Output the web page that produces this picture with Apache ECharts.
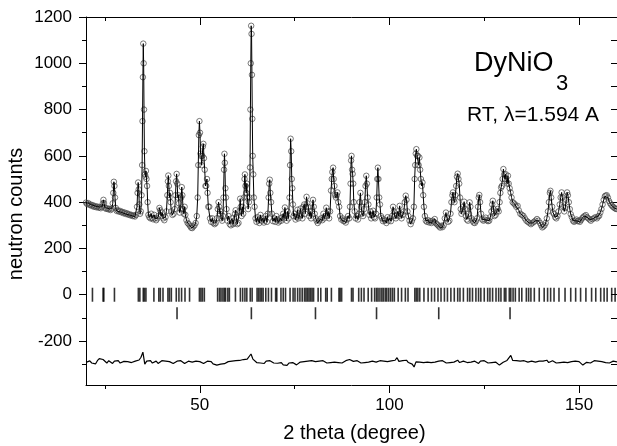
<!DOCTYPE html>
<html><head><meta charset="utf-8">
<script src="https://cdn.jsdelivr.net/npm/echarts@6/dist/echarts.min.js"></script>
<style>html,body{margin:0;padding:0;background:#fff}#c{width:617px;height:446px}</style>
</head><body><div id="c"></div>
<script>
// observed / calculated profile, [2theta, counts]
const obs20to65 = [
[20.0,398],[20.3,392],[20.6,396],[20.9,388],[21.2,390],[21.5,384],[21.8,387],[22.1,380],[22.4,383],[22.7,378],[23.0,381],[23.3,376],[23.6,379],[23.9,374],[24.2,380],[24.45,395],[24.6,410],[24.75,396],[25.0,376],[25.3,371],[25.6,374],[25.9,369],[26.2,371],[26.5,366],[26.8,372],[27.05,395],[27.2,440],[27.35,488],[27.5,470],[27.65,420],[27.85,375],[28.1,362],[28.4,365],[28.7,359],[29.0,362],[29.3,356],[29.6,358],[29.9,352],[30.2,355],[30.5,349],[30.8,352],[31.1,346],[31.4,348],[31.7,343],[32.0,345],[32.3,340],[32.6,342],[32.9,338],[33.2,345],[33.45,380],[33.6,440],[33.75,485],[33.9,455],[34.05,390],[34.25,350],[34.45,360],[34.65,430],[34.8,560],[34.9,750],[35.0,940],[35.1,1085],[35.2,1000],[35.3,800],[35.4,620],[35.55,520],[35.7,510],[35.8,535],[35.95,500],[36.1,470],[36.25,400],[36.45,345],[36.7,335],[37.0,330],[37.2,350],[37.4,332],[37.7,326],[38.0,345],[38.2,330],[38.5,322],[38.8,330],[39.1,340],[39.35,375],[39.55,365],[39.8,340],[40.1,355],[40.35,330],[40.65,322],[40.95,335],[41.2,360],[41.45,430],[41.6,490],[41.7,515],[41.85,470],[42.0,420],[42.15,440],[42.3,400],[42.5,360],[42.8,345],[43.1,350],[43.4,370],[43.6,430],[43.75,490],[43.9,522],[44.05,480],[44.2,420],[44.35,430],[44.5,395],[44.7,355],[44.95,370],[45.1,420],[45.25,465],[45.4,430],[45.6,370],[45.8,350],[46.0,380],[46.2,345],[46.5,322],[46.8,310],[47.1,305],[47.4,298],[47.7,290],[48.0,288],[48.3,295],[48.6,300],[48.9,310],[49.2,340],[49.45,420],[49.6,560],[49.75,690],[49.9,750],[50.05,700],[50.2,610],[50.35,600],[50.5,560],[50.65,600],[50.8,640],[50.95,652],[51.1,590],[51.3,540],[51.5,470],[51.7,470],[51.9,500],[52.05,440],[52.25,380],[52.5,380],[52.7,330],[53.0,315],[53.3,330],[53.6,310],[53.9,305],[54.2,310],[54.5,330],[54.75,370],[54.95,400],[55.1,380],[55.3,350],[55.45,360],[55.65,330],[55.9,320],[56.1,340],[56.25,420],[56.4,540],[56.5,609],[56.6,570],[56.75,460],[56.9,420],[57.05,370],[57.3,320],[57.6,340],[57.9,305],[58.2,300],[58.5,330],[58.8,305],[59.1,310],[59.3,350],[59.45,365],[59.6,335],[59.9,305],[60.2,310],[60.45,360],[60.65,415],[60.8,380],[61.0,340],[61.25,380],[61.45,350],[61.65,420],[61.8,500],[61.9,520],[62.05,470],[62.25,440],[62.4,480],[62.55,420],[62.75,370],[62.95,400],[63.1,420],[63.25,550],[63.35,800],[63.45,1000],[63.55,1162],[63.65,1127],[63.75,950],[63.85,760],[63.95,600],[64.1,520],[64.25,420],[64.45,380],[64.7,330],[64.95,315]
];
const obs65to110 = [
[65.2,335],[65.45,320],[65.7,310],[66.0,345],[66.3,320],[66.6,330],[66.9,312],[67.2,320],[67.4,340],[67.7,315],[67.95,350],[68.15,420],[68.3,480],[68.45,497],[68.6,440],[68.8,400],[69.0,350],[69.3,318],[69.6,330],[69.9,315],[70.2,340],[70.45,325],[70.7,312],[71.0,318],[71.25,330],[71.5,320],[71.8,335],[72.0,350],[72.2,330],[72.45,377],[72.65,345],[72.9,320],[73.15,360],[73.4,330],[73.65,420],[73.8,560],[73.95,674],[74.1,620],[74.25,500],[74.4,460],[74.55,390],[74.75,340],[75.0,350],[75.25,325],[75.5,335],[75.75,367],[76.0,330],[76.3,340],[76.55,372],[76.8,345],[77.05,330],[77.3,380],[77.55,390],[77.8,350],[78.0,380],[78.15,423],[78.35,395],[78.6,380],[78.85,340],[79.1,360],[79.35,330],[79.6,360],[79.85,410],[80.05,380],[80.3,350],[80.55,330],[80.8,320],[81.1,310],[81.4,318],[81.7,325],[82.0,330],[82.3,322],[82.6,350],[82.85,330],[83.1,340],[83.35,376],[83.6,340],[83.85,360],[84.1,330],[84.35,360],[84.6,450],[84.8,500],[84.95,530],[85.15,549],[85.3,500],[85.5,470],[85.7,430],[85.9,420],[86.1,430],[86.3,442],[86.5,400],[86.75,380],[87.0,340],[87.3,325],[87.6,330],[87.9,318],[88.2,320],[88.5,312],[88.8,325],[89.1,340],[89.4,330],[89.6,380],[89.75,480],[89.9,580],[90.0,600],[90.15,540],[90.3,522],[90.45,480],[90.6,400],[90.85,360],[91.1,330],[91.4,340],[91.7,325],[91.95,350],[92.15,400],[92.35,440],[92.55,380],[92.8,350],[93.05,340],[93.3,370],[93.5,400],[93.7,470],[93.9,514],[94.05,480],[94.25,420],[94.45,390],[94.7,345],[94.95,360],[95.2,330],[95.45,345],[95.7,363],[95.95,335],[96.2,330],[96.45,350],[96.65,420],[96.8,500],[96.95,549],[97.1,500],[97.3,420],[97.5,390],[97.75,340],[98.0,330],[98.3,318],[98.6,325],[98.9,320],[99.2,310],[99.5,335],[99.8,320],[100.1,330],[100.4,318],[100.7,340],[100.95,380],[101.2,360],[101.45,340],[101.7,330],[101.95,345],[102.2,360],[102.45,340],[102.7,384],[102.95,350],[103.2,330],[103.5,345],[103.8,360],[104.05,400],[104.3,428],[104.5,410],[104.75,360],[105.0,340],[105.3,320],[105.6,305],[105.9,318],[106.2,330],[106.45,380],[106.65,500],[106.8,560],[106.95,610],[107.1,629],[107.3,600],[107.5,600],[107.7,560],[107.9,593],[108.1,540],[108.3,500],[108.5,470],[108.7,485],[108.9,430],[109.1,380],[109.35,340],[109.6,320],[109.9,315],[110.2,322]
];
const obs110to160 = [
[110.5,312],[110.8,318],[111.1,310],[111.4,320],[111.7,315],[111.95,327],[112.2,310],[112.5,305],[112.8,300],[113.1,295],[113.4,290],[113.7,298],[114.0,292],[114.3,300],[114.6,330],[114.9,355],[115.2,330],[115.5,315],[115.8,320],[116.1,350],[116.35,400],[116.6,430],[116.75,442],[116.95,410],[117.15,400],[117.4,430],[117.6,470],[117.8,510],[118.0,523],[118.2,500],[118.4,480],[118.6,420],[118.8,370],[119.0,350],[119.25,360],[119.5,380],[119.7,402],[119.9,370],[120.15,340],[120.4,325],[120.7,320],[120.95,350],[121.15,399],[121.35,380],[121.6,330],[121.9,320],[122.2,312],[122.5,310],[122.8,318],[123.1,330],[123.35,380],[123.55,420],[123.7,431],[123.9,400],[124.15,350],[124.45,325],[124.8,320],[125.1,325],[125.4,333],[125.7,322],[126.0,318],[126.3,320],[126.6,335],[126.9,360],[127.1,390],[127.25,406],[127.45,370],[127.7,340],[128.0,345],[128.3,360],[128.55,371],[128.8,360],[129.05,400],[129.25,440],[129.45,463],[129.65,470],[129.85,500],[130.05,543],[130.25,520],[130.45,500],[130.65,521],[130.85,490],[131.05,480],[131.25,514],[131.45,480],[131.7,460],[131.95,442],[132.2,420],[132.5,400],[132.8,395],[133.1,390],[133.45,380],[133.8,384],[134.1,365],[134.5,350],[134.9,345],[135.3,341],[135.7,330],[136.1,320],[136.5,315],[136.9,310],[137.3,305],[137.7,310],[138.1,315],[138.5,320],[138.9,327],[139.3,320],[139.7,310],[140.0,300],[140.3,291],[140.6,295],[140.9,300],[141.2,310],[141.5,330],[141.8,360],[142.05,400],[142.3,440],[142.45,449],[142.65,420],[142.9,380],[143.15,355],[143.4,348],[143.7,335],[144.0,330],[144.3,340],[144.6,360],[144.9,390],[145.15,420],[145.4,442],[145.6,420],[145.85,380],[146.1,360],[146.35,375],[146.6,410],[146.85,442],[147.05,430],[147.3,400],[147.55,370],[147.8,348],[148.1,335],[148.4,320],[148.7,315],[149.0,320],[149.3,325],[149.6,318],[149.9,320],[150.2,315],[150.5,322],[150.8,330],[151.1,335],[151.4,340],[151.8,344],[152.1,335],[152.4,330],[152.8,325],[153.1,320],[153.5,327],[153.9,330],[154.3,335],[154.7,330],[155.0,338],[155.3,341],[155.6,355],[155.9,370],[156.2,390],[156.5,410],[156.8,425],[157.0,428],[157.3,430],[157.6,420],[157.9,405],[158.2,395],[158.5,388],[158.8,382],[159.1,378],[159.4,374],[159.7,371],[160.0,370]
];
// difference curve (offset), sampled every 0.5 deg from 20
const diffStart = 20, diffStep = 0.5;
const diffVals = [
-292,-298,-286,-295,-289,-299,-285,-276,-284,-280,-288,-295,-285,-291,-297,-287,-293,-285,-295,-289,-288,
-295,-289,-285,-293,-297,-287,-291,-282,-270,-248,-300,-287,-293,-285,-295,-289,-287,-297,-289,-285,
-293,-287,-295,-289,-283,-297,-291,-287,-295,-285,-291,-297,-291,-287,-283,-291,-295,-287,-293,-289,
-285,-297,-289,-287,-295,-289,-299,-291,-304,-310,-300,-306,-298,-294,-289,-297,-287,-293,-285,-291,
-284,-291,-280,-286,-278,-270,-256,-278,-286,-293,-287,-295,-289,-297,-287,-293,-285,-291,-295,-287,
-296,-301,-293,-303,-297,-305,-295,-301,-293,-299,-303,-295,-291,-297,-289,-295,-287,-293,-285,-291,
-289,-295,-287,-293,-285,-291,-295,-287,-293,-285,-291,-283,-293,-287,-295,-289,-285,-293,-280,-274,
-288,-293,-285,-291,-295,-287,-293,-285,-291,-295,-287,-283,-291,-293,-285,-291,-287,-295,-289,-285,
-286,-291,-283,-272,-288,-293,-285,-291,-283,-293,-297,-300,-312,-290,-285,-291,-283,-293,-287,-291,
-285,-293,-287,-291,-295,-287,-293,-285,-291,-295,-287,-293,-285,-291,-287,-283,-293,-289,-287,-293,
-293,-285,-291,-295,-287,-293,-297,-287,-293,-285,-291,-295,-287,-293,-285,-291,-297,-304,-312,-292,
-288,-284,-276,-262,-284,-291,-285,-293,-287,-291,-285,-283,-291,-293,-287,-285,-291,-283,-287,-293,
-287,-291,-283,-293,-287,-285,-291,-295,-287,-293,-285,-291,-287,-293,-295,-289,-297,-287,-293,-289,
-296,-304,-300,-292,-287,-295,-289,-285,-293,-287,-295,-289,-285,-293,-287,-295,-289,-287,-293,-290
];
// Bragg reflection positions
const braggMain = [21.7,24.5,24.7,27.5,33.8,34.2,35.1,35.4,35.8,37.9,39.2,39.6,40.3,41.6,42.0,42.5,43.8,44.5,45.2,46.1,47.3,49.9,50.3,50.7,51.2,54.7,55.2,55.6,56.1,56.5,56.8,57.4,57.8,59.4,60.7,61.3,61.9,62.4,63.3,63.8,65.1,65.5,65.9,66.3,66.7,67.4,68.1,68.9,70.0,70.3,71.4,72.0,72.6,73.8,74.6,75.1,75.8,76.4,77.0,77.6,78.0,78.4,78.8,79.2,79.6,80.0,81.2,81.9,83.2,83.6,84.7,86.7,87.0,87.4,90.0,90.4,91.9,92.6,93.3,94.4,95.3,96.1,96.6,97.0,97.5,98.0,98.4,98.9,99.3,99.8,100.3,100.8,101.3,102.3,103.2,104.2,104.9,106.7,107.1,107.5,108.0,109.1,110.2,111.1,111.9,112.8,113.6,114.5,115.3,116.2,117.1,118.0,118.6,119.5,120.6,121.2,121.9,122.8,123.5,124.1,125.0,125.9,126.5,127.2,128.1,128.8,129.4,130.3,130.7,131.6,132.0,132.6,133.2,134.2,134.9,136.1,136.7,137.3,138.2,139.5,140.8,141.7,142.5,143.4,144.7,146.3,147.8,149.1,150.4,151.8,153.3,154.4,155.7,156.6,157.4,158.6,159.5];
const braggSecond = [44.0,63.6,80.5,96.6,113.0,131.8];
const braggMainLevel = 0, braggSecondLevel = -80;
// axis ticks
const xMajor = [50,100,150];
const xMinor = [25,75,125];
const yMajor = [-200,0,200,400,600,800,1000,1200];
const yMinor = [-300,-100,100,300,500,700,900,1100];
const yRight = [-300,-200,-100,0,100,200,300,400,500,600,700,800,900,1000,1100];

const obs = obs20to65.concat(obs65to110, obs110to160);
const diff = diffVals.map((v,i)=>[diffStart + i*diffStep, v]);
const FONT = 'Liberation Sans, Arial, sans-serif';

const chart = echarts.init(document.getElementById('c'), null, {renderer:'canvas'});
const blk = {color:'#000', width:1};
function xa(pos, ticks, len, inside, showLine, extra){
  return Object.assign({type:'value', position:pos, min:20, max:160, gridIndex:0,
    axisLine:{show:showLine, onZero:false, lineStyle:blk},
    axisTick:{show:true, customValues:ticks, length:len, inside:inside, lineStyle:blk},
    axisLabel:{show:false}, splitLine:{show:false}}, extra||{});
}
function ya(pos, ticks, len, inside, showLine, extra){
  return Object.assign({type:'value', position:pos, min:-390, max:1200, gridIndex:0,
    axisLine:{show:showLine, onZero:false, lineStyle:blk},
    axisTick:{show:true, customValues:ticks, length:len, inside:inside, lineStyle:blk},
    axisLabel:{show:false}, splitLine:{show:false}}, extra||{});
}
chart.setOption({
  animation:false,
  backgroundColor:'#fff',
  grid:{left:86, right:0, top:17, bottom:61, containLabel:false, outerBoundsMode:'none'},
  xAxis:[
    xa('bottom', xMajor, 8, false, true, {
      axisLabel:{show:true, customValues:xMajor, fontSize:17, color:'#000', margin:12, fontFamily:FONT, formatter:v=>String(v)},
      name:'2 theta (degree)', nameLocation:'middle', nameGap:38,
      nameTextStyle:{fontSize:20, color:'#000', fontFamily:FONT, padding:[0,0,0,6]}}),
    xa('bottom', xMinor, 4, false, false),
    xa('top', xMajor, 8, true, true),
    xa('top', xMinor, 4, true, false)
  ],
  yAxis:[
    ya('left', yMajor, 7, false, true, {
      axisLabel:{show:true, customValues:yMajor, fontSize:17, color:'#000', margin:14, fontFamily:FONT, formatter:v=>String(v)}}),
    ya('left', yMinor, 4, false, false),
    ya('right', yRight, 6, true, false)
  ],
  series:[
    {type:'scatter', name:'obs', data:obs, symbol:'circle', symbolSize:5.5,
     itemStyle:{color:'rgba(255,255,255,0)', borderColor:'#444', borderWidth:0.9}, z:2},
    {type:'line', name:'calc', data:obs, showSymbol:false, lineStyle:{color:'#000', width:1}, z:3},
    {type:'line', name:'diff', data:diff, showSymbol:false, lineStyle:{color:'#000', width:1.2}, z:3},
    {type:'scatter', name:'bragg1', data:braggMain.map(x=>[x,braggMainLevel]), symbol:'rect', symbolSize:[1.6,14],
     itemStyle:{color:'#000'}, z:3},
    {type:'scatter', name:'bragg2', data:braggSecond.map(x=>[x,braggSecondLevel]), symbol:'rect', symbolSize:[1.6,12],
     itemStyle:{color:'#000'}, z:3}
  ],
  graphic:[
    {type:'text', x:16, y:214, rotation:Math.PI/2, style:{text:'neutron counts', font:'20px '+FONT, fill:'#000', align:'center', verticalAlign:'middle'}},
    {type:'text', left:474, top:50, style:{text:'DyNiO', font:'27px '+FONT, fill:'#000'}},
    {type:'text', left:556, top:73, style:{text:'3', font:'22px '+FONT, fill:'#000'}},
    {type:'text', left:467, top:105, style:{text:'RT, λ=1.594 A', font:'21px '+FONT, fill:'#000'}}
  ]
});
</script></body></html>
